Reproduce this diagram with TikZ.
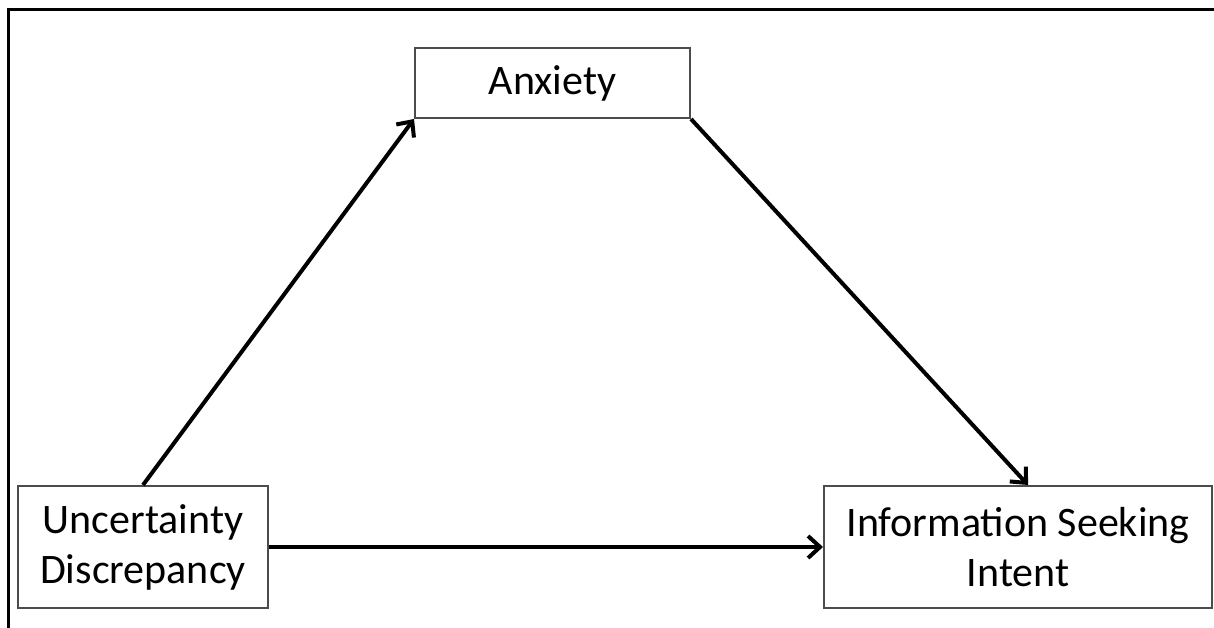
\documentclass[tikz,border=0pt]{standalone}
\usepackage{fontspec}
\setmainfont{Carlito}
\usetikzlibrary{arrows.meta}
\begin{document}
\begin{tikzpicture}[x=1pt,y=-1pt,
  box/.style={draw=black!70,line width=2pt,fill=white,inner sep=0pt,
    align=center,font=\fontsize{42}{50}\selectfont,anchor=north west},
  link/.style={line width=4pt,-{Straight Barb[length=12pt,width=22pt,line width=4pt]}}]
  \useasboundingbox (0,0) rectangle (1214,628);
  % open frame: top and left edges only
  \draw[line width=3pt] (8,628) -- (8,10) -- (1214,10);
  \node[box,minimum width=275pt,minimum height=70pt] (anx) at (414,47) {Anxiety};
  \node[box,minimum width=250pt,minimum height=122pt] (unc) at (17,485) {\raisebox{-4pt}{\parbox{240pt}{\centering Uncertainty\\Discrepancy}}};
  \node[box,minimum width=388pt,minimum height=122pt] (info) at (823,485) {\raisebox{-4pt}{\parbox{380pt}{\centering Information Seeking\\Intent}}};
  \coordinate (uncTop) at (143,485);
  \coordinate (infoTop) at (1028,485);
  \draw[link] (uncTop) -- (anx.south west);
  \draw[link] (anx.south east) -- (infoTop);
  \draw[link] (unc.east) -- (info.west);
\end{tikzpicture}
\end{document}
